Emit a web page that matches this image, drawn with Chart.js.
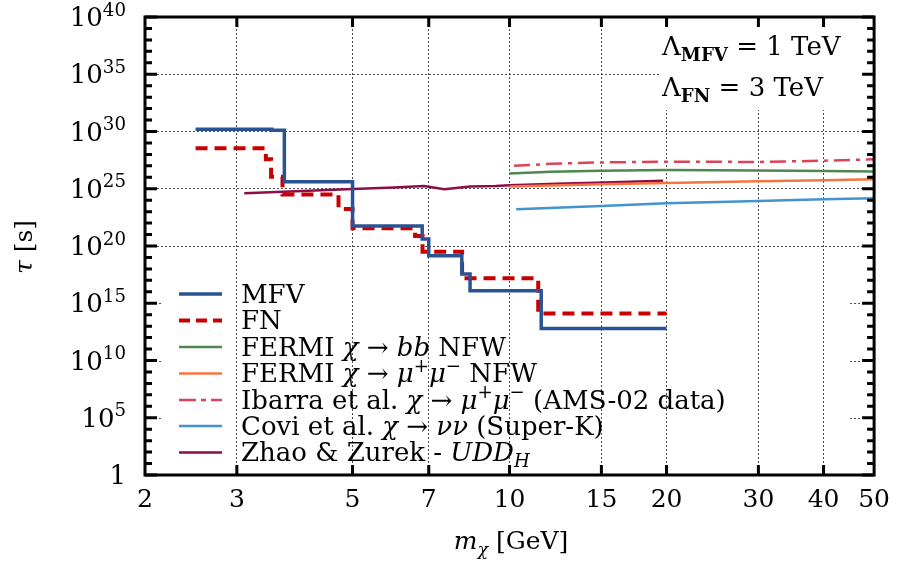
<!DOCTYPE html>
<html><head><meta charset="utf-8">
<script src="https://cdn.jsdelivr.net/npm/chart.js@4.4.1/dist/chart.umd.min.js"></script>
<style>html,body{margin:0;padding:0;background:#fff}#wrap{width:900px;height:569px}</style>
</head><body><div id="wrap"><canvas id="c" width="900" height="569"></canvas></div>
<script>
// ---- data ----
const xTickValues = [2, 3, 5, 7, 10, 15, 20, 30, 40, 50];
const yMajorExponents = [0, 5, 10, 15, 20, 25, 30, 35, 40];

// step curves: bin edges (GeV) and lifetime in each bin (s)
const mfvEdges  = [2.5, 3.5, 3.7, 5.0, 6.8, 7.0, 8.1, 8.4, 11.5, 20];
const mfvValues = [1.58e30, 1.26e30, 4.0e25, 5.6e21, 4.0e20, 1.4e19, 3.5e17, 1.26e16, 6.3e12];
const fnEdges   = [2.5, 3.41, 3.49, 3.67, 4.70, 5.0, 6.59, 6.81, 8.11, 11.35, 20];
const fnValues  = [3.4e28, 3.7e27, 1.1e26, 3.2e24, 1.7e23, 3.5e21, 7.4e20, 3.2e19, 1.5e17, 1.3e14];

const fermiBbMass   = [10, 12, 15, 20, 30, 40, 50];
const fermiBbTau    = [2.2e26, 3.0e26, 3.7e26, 4.4e26, 4.0e26, 3.5e26, 3.2e26];
const fermiMuMass   = [10, 15, 20, 30, 40, 50];
const fermiMuTau    = [1.6e25, 2.5e25, 3.2e25, 4.5e25, 5.6e25, 6.6e25];
const ibarraMass    = [10.2, 12, 15, 20, 30, 40, 50];
const ibarraTau     = [1.0e27, 1.5e27, 2.0e27, 2.3e27, 2.2e27, 2.8e27, 3.7e27];
const coviMass      = [10.3, 15, 20, 30, 40, 50];
const coviTau       = [1.6e23, 3.1e23, 5.4e23, 8.5e23, 1.2e24, 1.45e24];
const zhaoMass      = [3.1, 4, 5, 6, 6.85, 7.5, 8.4, 9.4, 10, 12.3, 14.6, 19.7];
const zhaoTau       = [4.0e24, 6.3e24, 9.5e24, 1.26e25, 1.74e25, 8.9e24, 1.6e25, 1.74e25, 2.0e25, 2.8e25, 3.4e25, 5.0e25];

// ---- helpers ----
const FAM = '"DejaVu Serif", "Liberation Serif", serif';
// each bin value starts at its left edge; last edge repeats the last value
function stepData(edges, vals){ return edges.map((e,i)=>({x:e, y: vals[Math.min(i, vals.length-1)]})); }
function pairData(xs, ys){ return xs.map((x,i)=>({x:x, y:ys[i]})); }
function fontStr(s, size){ return (s.i?'italic ':'')+(s.b?'bold ':'')+size+'px '+FAM; }
function drawRich(ctx, segs, x, y, size, align){
  const parts = segs.map(s=>{ const sz=(s.sup||s.sub)?size*0.7:size; ctx.font=fontStr(s,sz); return {s, sz, w:ctx.measureText(s.t).width}; });
  const total = parts.reduce((a,p)=>a+p.w,0);
  let cx = align==='right' ? x-total : (align==='center' ? x-total/2 : x);
  ctx.textAlign='left'; ctx.textBaseline='alphabetic'; ctx.fillStyle='#000';
  for(const p of parts){ ctx.font=fontStr(p.s,p.sz); const dy=p.s.sup?-size*0.4:(p.s.sub?size*0.22:0); ctx.fillText(p.s.t,cx,y+dy); cx+=p.w; }
  return total;
}
const N=t=>({t}), I=t=>({t,i:true}), SUP=t=>({t,sup:true}), SUBI=t=>({t,sub:true,i:true}), SUBB=t=>({t,sub:true,b:true});

const series = [
  {label:[N('MFV')], color:'#2a5394', width:3.5, dash:[], key:[], data:stepData(mfvEdges,mfvValues), stepped:'before'},
  {label:[N('FN')], color:'#c80000', width:4, dash:[12,7], key:[11,6], data:stepData(fnEdges,fnValues), stepped:'before'},
  {label:[N('FERMI '),I('χ'),N(' → '),I('bb'),N(' NFW')], color:'#4e874f', width:2.5, dash:[], key:[], data:pairData(fermiBbMass,fermiBbTau)},
  {label:[N('FERMI '),I('χ'),N(' → '),I('μ'),SUP('+'),I('μ'),SUP('−'),N(' NFW')], color:'#f8743f', width:2.5, dash:[], key:[], data:pairData(fermiMuMass,fermiMuTau)},
  {label:[N('Ibarra et al. '),I('χ'),N(' → '),I('μ'),SUP('+'),I('μ'),SUP('−'),N(' (AMS-02 data)')], color:'#de4258', width:2.5, dash:[16,6,4,6], key:[17,5,5,5], data:pairData(ibarraMass,ibarraTau)},
  {label:[N('Covi et al. '),I('χ'),N(' → '),I('νν'),N(' (Super-K)')], color:'#4294cf', width:2.5, dash:[], key:[], data:pairData(coviMass,coviTau)},
  {label:[N('Zhao & Zurek - '),I('UDD'),SUBI('H')], color:'#8e0c48', width:2.5, dash:[], key:[], data:pairData(zhaoMass,zhaoTau)},
];

const GRID = 'rgba(0,0,0,0.7)';
const overlay = {
  id:'overlay',
  beforeDatasetsDraw(chart){
    const ctx=chart.ctx, ys=chart.scales.y, ca=chart.chartArea;
    ctx.save();
    ctx.fillStyle='#fff';
    ctx.fillRect(660, ca.top+2, 203, 108-ca.top);
    ctx.strokeStyle=GRID; ctx.lineWidth=1; ctx.setLineDash([2,2]);
    [1e5,1e10,1e15].forEach(v=>{ const py=Math.round(ys.getPixelForValue(v))+0.5;
      ctx.beginPath(); ctx.moveTo(ca.left+6,py); ctx.lineTo(ca.left+18,py); ctx.moveTo(ca.right-24,py); ctx.lineTo(ca.right-6,py); ctx.stroke(); });
    ctx.restore();
  },
  afterDraw(chart){
    const ctx=chart.ctx, xs=chart.scales.x, ys=chart.scales.y, ca=chart.chartArea;
    ctx.save();
    ctx.strokeStyle='#000'; ctx.lineWidth=3; ctx.setLineDash([]);
    for(let k=0;k<=40;k++){
      const py=ys.getPixelForValue(Math.pow(10,k)); const L=(k%5===0)?12:7;
      ctx.beginPath(); ctx.moveTo(ca.left,py); ctx.lineTo(ca.left+L,py); ctx.moveTo(ca.right,py); ctx.lineTo(ca.right-L,py); ctx.stroke();
    }
    xTickValues.slice(1,-1).forEach(v=>{ const px=xs.getPixelForValue(v);
      ctx.beginPath(); ctx.moveTo(px,ca.bottom); ctx.lineTo(px,ca.bottom-10); ctx.moveTo(px,ca.top); ctx.lineTo(px,ca.top+10); ctx.stroke(); });
    ctx.strokeRect(ca.left,ca.top,ca.right-ca.left,ca.bottom-ca.top);
    yMajorExponents.forEach(k=>{ const py=ys.getPixelForValue(Math.pow(10,k));
      const segs = k===0 ? [N('1')] : [N('10'),SUP(String(k))];
      drawRich(ctx, segs, 126, py+9, 26, 'right'); });
    const rows=[294,320.5,347,373.5,400,426,452.5];
    series.forEach((s,i)=>{ const y=rows[i];
      ctx.strokeStyle=s.color; ctx.lineWidth=s.width; ctx.setLineDash(s.key);
      ctx.beginPath(); ctx.moveTo(179,y); ctx.lineTo(222,y); ctx.stroke(); ctx.setLineDash([]);
      drawRich(ctx, s.label, 241, y+8.5, 26, 'left'); });
    drawRich(ctx,[N('Λ'),SUBB('MFV'),N(' = 1 TeV')],662,55,26,'left');
    drawRich(ctx,[N('Λ'),SUBB('FN'),N(' = 3 TeV')],662,96,26,'left');
    drawRich(ctx,[I('m'),SUBI('χ'),N(' [GeV]')],511,549,25,'center');
    ctx.translate(32,247); ctx.rotate(-Math.PI/2);
    drawRich(ctx,[I('τ'),N(' [s]')],0,0,25,'center');
    ctx.restore();
  }
};

new Chart(document.getElementById('c'), {
  type:'line',
  data:{ datasets: series.map(s=>({ data:s.data, borderColor:s.color, borderWidth:s.width, borderDash:s.dash, stepped:s.stepped||false, pointRadius:0, fill:false, tension:0 })) },
  options:{
    responsive:false, animation:false, devicePixelRatio:1,
    layout:{padding:{left:0,right:20,top:17,bottom:0}},
    plugins:{legend:{display:false}, tooltip:{enabled:false}},
    scales:{
      x:{ type:'logarithmic', min:2, max:50,
          afterBuildTicks:s=>{ s.ticks = xTickValues.map(v=>({value:v})); },
          afterFit:s=>{ s.height=94; },
          ticks:{ callback:v=>String(v), font:{family:FAM,size:25}, color:'#000', padding:10, maxRotation:0, autoSkip:false },
          grid:{ drawTicks:false, lineWidth:1, color:c=>{ const v=c.tick&&c.tick.value; return (v===2||v===50)?'transparent':GRID; } },
          border:{ display:false, dash:[2,2] } },
      y:{ type:'logarithmic', min:1, max:1e40,
          afterBuildTicks:s=>{ const t=[]; for(let k=0;k<=40;k+=5) t.push({value:Math.pow(10,k)}); s.ticks=t; },
          afterFit:s=>{ s.width=145; },
          ticks:{ display:false },
          grid:{ drawTicks:false, lineWidth:1, color:c=>{ const v=c.tick&&c.tick.value; const k=Math.round(Math.log10(v)); return (k>=20&&k<=35)?GRID:'transparent'; } },
          border:{ display:false, dash:[2,2] } }
    }
  },
  plugins:[overlay]
});
</script></body></html>
